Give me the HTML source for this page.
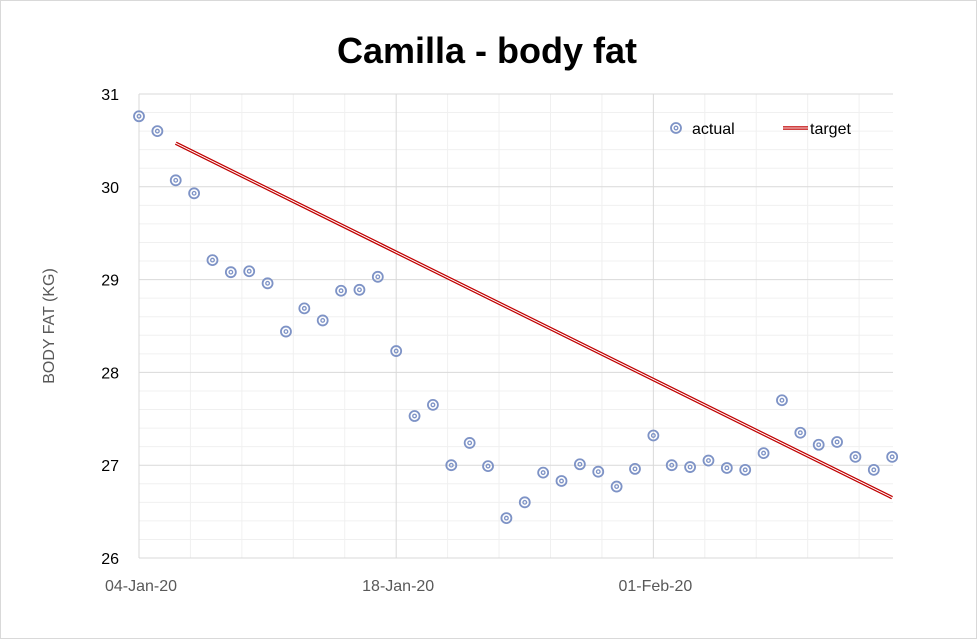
<!DOCTYPE html>
<html><head><meta charset="utf-8"><style>
body{margin:0;background:#fff;}
#wrap{position:relative;width:977px;height:639px;font-family:"Liberation Sans",sans-serif;}
</style></head><body>
<div id="wrap">
<svg id="svg" width="977" height="639" xmlns="http://www.w3.org/2000/svg">
<rect x="0.5" y="0.5" width="976" height="638" fill="#fff" stroke="#d9d9d9"/>
<text x="487" y="63" text-anchor="middle" font-size="36" font-weight="bold" fill="#000">Camilla - body fat</text>
<text transform="translate(54,326) rotate(-90)" text-anchor="middle" font-size="16" fill="#595959">BODY FAT (KG)</text>
<g id="grid"></g><g id="axes"></g><g id="series"></g>
<g>
<circle cx="676" cy="128" r="5" fill="none" stroke="#7e93c6" stroke-width="1.8"/>
<circle cx="676" cy="128" r="1.8" fill="none" stroke="#7e93c6" stroke-width="1.3"/>
<text x="692" y="134" font-size="16" fill="#000">actual</text>
<line x1="783" y1="128" x2="808" y2="128" stroke="#c00000" stroke-width="3.5"/>
<line x1="783" y1="128" x2="808" y2="128" stroke="#fff" stroke-width="1"/>
<text x="810" y="134" font-size="16" fill="#000">target</text>
</g>
</svg>
</div>
<script>
const actualValues=[30.76,30.60,30.07,29.93,29.21,29.08,29.09,28.96,28.44,28.69,28.56,28.88,28.89,29.03,28.23,27.53,27.65,27.00,27.24,26.99,26.43,26.60,26.92,26.83,27.01,26.93,26.77,26.96,27.32,27.00,26.98,27.05,26.97,26.95,27.13,27.70,27.35,27.22,27.25,27.09,26.95,27.09];
const targetStart=[2,30.47];
const targetEnd=[41,26.65];
const yTicks=[26,27,28,29,30,31];
const xTickLabels=["04-Jan-20","18-Jan-20","01-Feb-20"];
const xTickDays=[0,14,28];
const NS="http://www.w3.org/2000/svg";
const L=139,R=893,T=94,B=558,DAY=18.37;
function xs(d){return L+d*DAY;}
function ys(v){return B-(v-26)*(B-T)/5;}
function mk(tag,attrs,parent){const e=document.createElementNS(NS,tag);for(const k in attrs)e.setAttribute(k,attrs[k]);parent.appendChild(e);return e;}
const grid=document.getElementById('grid'),axes=document.getElementById('axes'),series=document.getElementById('series');
for(let v=26.2;v<31;v+=0.2){if(Math.abs(v-Math.round(v))<0.01)continue;mk('line',{x1:L,x2:R,y1:ys(v),y2:ys(v),stroke:'#f0f0f0'},grid);}
for(let d=0;d<=41.3;d+=2.8){if(Math.abs(d/14-Math.round(d/14))<0.01)continue;mk('line',{x1:xs(d),x2:xs(d),y1:T,y2:B,stroke:'#f0f0f0'},grid);}
yTicks.forEach(v=>{const l=mk('line',{x1:L,x2:R,y1:ys(v),y2:ys(v),stroke:'#d9d9d9'},grid);


const t=mk('text',{x:L-20,y:ys(v)+6,'text-anchor':'end','font-size':16,fill:'#000'},axes);t.textContent=v;

});
xTickDays.forEach((d,i)=>{const l=mk('line',{x1:xs(d),x2:xs(d),y1:T,y2:B,stroke:'#d9d9d9'},grid);


const t=mk('text',{x:xs(d)+2,y:B+33,'text-anchor':'middle','font-size':16,fill:'#595959'},axes);t.textContent=xTickLabels[i];

});
const tl=mk('line',{x1:xs(targetStart[0]),y1:ys(targetStart[1]),x2:xs(targetEnd[0]),y2:ys(targetEnd[1]),stroke:'#c00000','stroke-width':3.5},series);


mk('line',{x1:xs(targetStart[0]),y1:ys(targetStart[1]),x2:xs(targetEnd[0]),y2:ys(targetEnd[1]),stroke:'#fff','stroke-width':1},series);
actualValues.forEach((v,i)=>{const g=mk('g',{},series);


mk('circle',{cx:xs(i),cy:ys(v),r:5,fill:'none',stroke:'#7e93c6','stroke-width':1.8},g);
mk('circle',{cx:xs(i),cy:ys(v),r:1.8,fill:'none',stroke:'#7e93c6','stroke-width':1.3},g);});
</script>
</body></html>
